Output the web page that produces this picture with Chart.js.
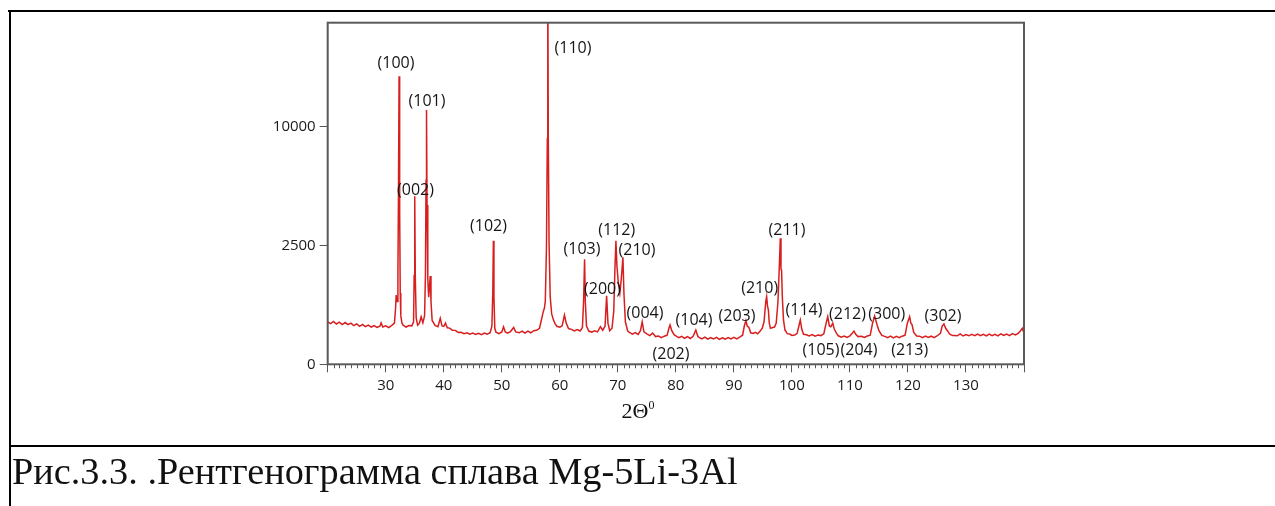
<!DOCTYPE html>
<html>
<head>
<meta charset="utf-8">
<script src="https://cdn.jsdelivr.net/npm/chart.js@4.4.1/dist/chart.umd.min.js"></script>
<style>
  html, body { margin: 0; padding: 0; background: #fff; }
  #page { position: relative; width: 1275px; height: 506px; overflow: hidden; }
  #chart { position: absolute; left: 0; top: 0; }
  .rule { position: absolute; background: #000; }
  #axisTitle { position: absolute; left: 598px; width: 80px; top: 398px; text-align: center;
               font-family: "Liberation Serif", serif; font-size: 22px; line-height: 26px; color: #111; }
  #axisTitle sup { font-size: 12px; vertical-align: 9px; line-height: 0; }
  #caption { position: absolute; left: 12px; top: 452px; font-family: "Liberation Serif", serif;
             font-size: 38.3px; line-height: 38px; white-space: nowrap; color: #111; }
</style>
</head>
<body>
<div id="page">
  <canvas id="chart" width="1275" height="506"></canvas>
  <div class="rule" style="left:8px; top:10px; width:1267px; height:2px;"></div>
  <div class="rule" style="left:9px; top:10px; width:2px; height:496px;"></div>
  <div class="rule" style="left:9px; top:445px; width:1266px; height:2px;"></div>
  <div id="axisTitle">2Θ<sup>0</sup></div>
  <div id="caption">Рис.3.3. .Рентгенограмма сплава Mg-5Li-3Al</div>
</div>
<script>
// 2θ (degrees) and intensity (counts)
const twoTheta = [
  20.0, 20.5, 21.0, 21.5, 22.0, 22.5, 23.0, 23.5, 24.0, 24.5,
  25.0, 25.5, 26.0, 26.5, 27.0, 27.5, 28.0, 28.5, 29.0, 29.2,
  29.5, 30.0, 30.5, 31.0, 31.5, 31.7, 31.8, 31.95, 32.1, 32.2,
  32.3, 32.4, 32.5, 32.6, 32.8, 33.0, 33.5, 34.0, 34.5, 34.8,
  34.9, 35.0, 35.1, 35.25, 35.5, 35.8, 36.1, 36.4, 36.7, 36.85,
  36.95, 37.03, 37.12, 37.25, 37.4, 37.55, 37.67, 37.8, 38.0, 38.5,
  39.0, 39.4, 39.7, 40.0, 40.3, 40.6, 41.0, 41.5, 42.0, 42.5,
  43.0, 43.5, 44.0, 44.5, 45.0, 45.5, 46.0, 46.5, 47.0, 47.5,
  48.0, 48.3, 48.45, 48.55, 48.65, 48.8, 49.0, 49.5, 50.0, 50.3,
  50.6, 51.0, 51.5, 52.05, 52.4, 53.0, 53.5, 54.0, 54.5, 55.0,
  55.5, 56.0, 56.5, 57.0, 57.15, 57.35, 57.5, 57.7, 57.85, 57.93,
  58.02, 58.15, 58.35, 58.6, 58.9, 59.2, 59.5, 60.0, 60.4, 60.8,
  61.1, 61.5, 62.0, 62.5, 63.0, 63.5, 63.9, 64.1, 64.27, 64.4,
  64.6, 65.0, 65.5, 66.0, 66.5, 67.0, 67.4, 67.8, 68.07, 68.3,
  68.6, 69.0, 69.3, 69.5, 69.67, 69.85, 70.1, 70.35, 70.6, 70.88,
  71.05, 71.3, 71.7, 72.0, 72.5, 73.0, 73.5, 73.9, 74.2, 74.5,
  75.0, 75.5, 76.0, 76.5, 77.0, 77.5, 78.0, 78.5, 78.8, 79.0,
  79.3, 79.7, 80.0, 80.5, 81.0, 81.5, 82.0, 82.5, 83.0, 83.44,
  83.8, 84.0, 84.5, 85.0, 85.5, 86.0, 86.5, 87.0, 87.5, 88.0,
  88.5, 89.0, 89.5, 90.0, 90.5, 91.0, 91.5, 91.8, 92.07, 92.3,
  92.6, 92.9, 93.3, 93.7, 94.1, 94.5, 94.9, 95.2, 95.5, 95.65,
  95.8, 95.95, 96.1, 96.3, 96.7, 97.0, 97.3, 97.6, 97.85, 98.0,
  98.12, 98.22, 98.35, 98.55, 98.8, 99.2, 99.6, 100.0, 100.5, 100.9,
  101.2, 101.45, 101.7, 102.0, 102.5, 103.0, 103.5, 104.0, 104.5, 105.0,
  105.5, 105.9, 106.18, 106.45, 106.7, 107.05, 107.3, 107.7, 108.0, 108.5,
  109.0, 109.5, 110.0, 110.4, 110.7, 111.0, 111.4, 112.0, 112.5, 113.0,
  113.5, 113.9, 114.26, 114.5, 114.7, 115.0, 115.5, 116.0, 116.5, 117.0,
  117.5, 118.0, 118.5, 119.0, 119.5, 119.9, 120.29, 120.5, 120.7, 121.0,
  121.5, 122.0, 122.5, 123.0, 123.5, 124.0, 124.5, 125.0, 125.6, 125.9,
  126.2, 126.5, 126.8, 127.2, 127.7, 128.0, 128.5, 129.0, 129.5, 130.0,
  130.5, 131.0, 131.5, 132.0, 132.5, 133.0, 133.5, 134.0, 134.5, 135.0,
  135.5, 136.0, 136.5, 137.0, 137.5, 138.0, 138.5, 139.0, 139.4, 139.7,
  140.0
];
const counts = [
  318, 292, 326, 288, 314, 280, 309, 278, 300, 266,
  290, 256, 283, 252, 272, 246, 266, 240, 258, 305,
  246, 262, 238, 266, 300, 560, 850, 700, 1500, 5200,
  14700, 4200, 900, 420, 300, 272, 246, 266, 262, 320,
  1400, 5000, 1300, 380, 270, 295, 400, 305, 420, 1500,
  6000, 11450, 4500, 1300, 800, 1100, 1380, 700, 340, 268,
  250, 375, 260, 255, 300, 236, 232, 206, 204, 180,
  182, 166, 176, 160, 172, 158, 170, 156, 172, 160,
  176, 260, 900, 2700, 800, 230, 182, 166, 186, 250,
  186, 172, 190, 240, 186, 176, 196, 172, 194, 176,
  200, 205, 230, 420, 490, 560, 700, 2400, 9000, 28000,
  9000, 2600, 800, 450, 350, 290, 256, 244, 262, 430,
  300, 226, 216, 198, 214, 196, 240, 700, 1950, 700,
  260, 196, 184, 200, 186, 250, 206, 260, 834, 300,
  200, 230, 500, 1600, 2700, 1700, 1150, 900, 1300, 2030,
  900, 320, 196, 180, 162, 178, 158, 200, 320, 186,
  164, 146, 172, 136, 142, 126, 140, 150, 230, 274,
  200, 156, 142, 126, 138, 120, 136, 118, 142, 208,
  136, 128, 114, 130, 112, 126, 114, 128, 110, 125,
  113, 127, 114, 128, 115, 130, 150, 260, 337, 260,
  240, 176, 168, 182, 166, 194, 230, 320, 700, 809,
  600, 520, 300, 229, 240, 246, 300, 700, 1800, 2812,
  1600, 1575, 800, 350, 210, 166, 162, 148, 152, 170,
  260, 348, 220, 160, 154, 142, 156, 140, 152, 146,
  165, 300, 401, 260, 250, 298, 220, 170, 144, 130,
  142, 128, 144, 170, 196, 160, 136, 140, 128, 142,
  150, 300, 413, 330, 270, 200, 148, 138, 126, 140,
  124, 138, 126, 140, 150, 300, 401, 300, 280, 180,
  142, 140, 126, 142, 128, 140, 126, 142, 170, 260,
  288, 230, 200, 160, 146, 146, 144, 164, 142, 156,
  144, 160, 146, 162, 146, 160, 144, 162, 146, 160,
  144, 164, 148, 162, 146, 166, 152, 170, 200, 229,
  170
];

const yTickValues = [0, 2500, 10000];
const xTickStep = 10;

// Miller indices of the reflections, and where their labels sit (2θ, counts)
const peakLabels = ['(100)', '(002)', '(101)', '(102)', '(110)', '(103)', '(200)', '(112)', '(210)', '(004)',
                    '(202)', '(104)', '(203)', '(210)', '(211)', '(114)', '(105)', '(204)', '(212)', '(300)',
                    '(213)', '(302)'];
const peakLabelTheta = [31.77, 35.13, 37.11, 47.71, 62.27, 63.83, 67.36, 69.81, 73.31, 74.68,
                        79.17, 83.13, 90.54, 94.45, 99.16, 102.09, 105.02, 111.57, 109.58, 116.34,
                        120.3, 126.04];
const peakLabelCounts = [16050, 5382, 12215, 3388, 17688, 2343, 996, 3162, 2286, 461,
                         19, 337, 401, 1023, 3195, 522, 33, 33, 448, 448,
                         36, 401];

// square-root intensity axis (0, 2500, 10000 are evenly spaced in the original)
class SqrtScale extends Chart.LinearScale {
  getPixelForValue(value) {
    if (value === null || value === undefined) return NaN;
    const lo = Math.sqrt(Math.max(this.min, 0));
    const hi = Math.sqrt(this.max);
    return this.getPixelForDecimal((Math.sqrt(Math.max(value, 0)) - lo) / (hi - lo));
  }
  getValueForPixel(pixel) {
    const lo = Math.sqrt(Math.max(this.min, 0));
    const hi = Math.sqrt(this.max);
    const s = lo + this.getDecimalForPixel(pixel) * (hi - lo);
    return s * s;
  }
}
SqrtScale.id = 'sqrt';
SqrtScale.defaults = Chart.LinearScale.defaults;
Chart.register(SqrtScale);

const extras = {
  id: 'extras',
  afterDatasetsDraw(chart) {
    const { ctx, scales: { x, y } } = chart;
    ctx.save();
    ctx.font = '16px "Open Sans"';
    ctx.fillStyle = '#151515';
    ctx.textAlign = 'center';
    ctx.textBaseline = 'middle';
    peakLabels.forEach((t, i) => {
      ctx.fillText(t, x.getPixelForValue(peakLabelTheta[i]), y.getPixelForValue(peakLabelCounts[i]));
    });
    ctx.restore();
  },
  afterDraw(chart) {
    const { ctx, chartArea: a, scales: { x } } = chart;
    ctx.save();
    // minor ticks every degree
    ctx.strokeStyle = '#555';
    ctx.lineWidth = 1;
    ctx.beginPath();
    for (let t = Math.ceil(x.min) + 1; t < x.max; t++) {
      if (t % xTickStep === 0) continue;
      const px = Math.round(x.getPixelForValue(t)) + 0.5;
      ctx.moveTo(px, a.bottom);
      ctx.lineTo(px, a.bottom + 4);
    }
    ctx.stroke();
    // frame round the plot
    ctx.strokeStyle = '#5a5a5a';
    ctx.lineWidth = 2;
    ctx.strokeRect(a.left, a.top, a.right - a.left, a.bottom - a.top);
    ctx.restore();
  }
};

new Chart(document.getElementById('chart').getContext('2d'), {
  type: 'line',
  data: {
    datasets: [{
      data: twoTheta.map((t, i) => ({ x: t, y: counts[i] })),
      borderColor: '#d81e1e',
      borderWidth: 1.5,
      pointRadius: 0,
      tension: 0
    }]
  },
  options: {
    responsive: false,
    animation: false,
    devicePixelRatio: 1,
    layout: { padding: { left: 268, right: 251, top: 22.7, bottom: 101.7 } },
    plugins: { legend: { display: false }, tooltip: { enabled: false } },
    scales: {
      x: {
        type: 'linear',
        min: 20,
        max: 140,
        afterFit: s => { s.height = 40; },
        border: { display: false },
        grid: { drawOnChartArea: false, tickLength: 8, tickColor: '#555', lineWidth: 1 },
        ticks: {
          stepSize: xTickStep,
          autoSkip: false,
          maxRotation: 0,
          padding: 4,
          color: '#1a1a1a',
          font: { family: 'Open Sans', size: 15 },
          callback: v => (v >= 30 && v <= 130 ? String(v) : '')
        }
      },
      y: {
        type: 'sqrt',
        min: 0,
        max: 20670,
        afterFit: s => { s.width = 59.7; },
        afterBuildTicks: s => { s.ticks = yTickValues.map(v => ({ value: v })); },
        border: { display: false },
        grid: { drawOnChartArea: false, tickLength: 8, tickColor: '#555', lineWidth: 1 },
        ticks: {
          padding: 4,
          color: '#1a1a1a',
          font: { family: 'Open Sans', size: 15 },
          callback: v => String(v)
        }
      }
    }
  },
  plugins: [extras]
});
</script>
</body>
</html>
